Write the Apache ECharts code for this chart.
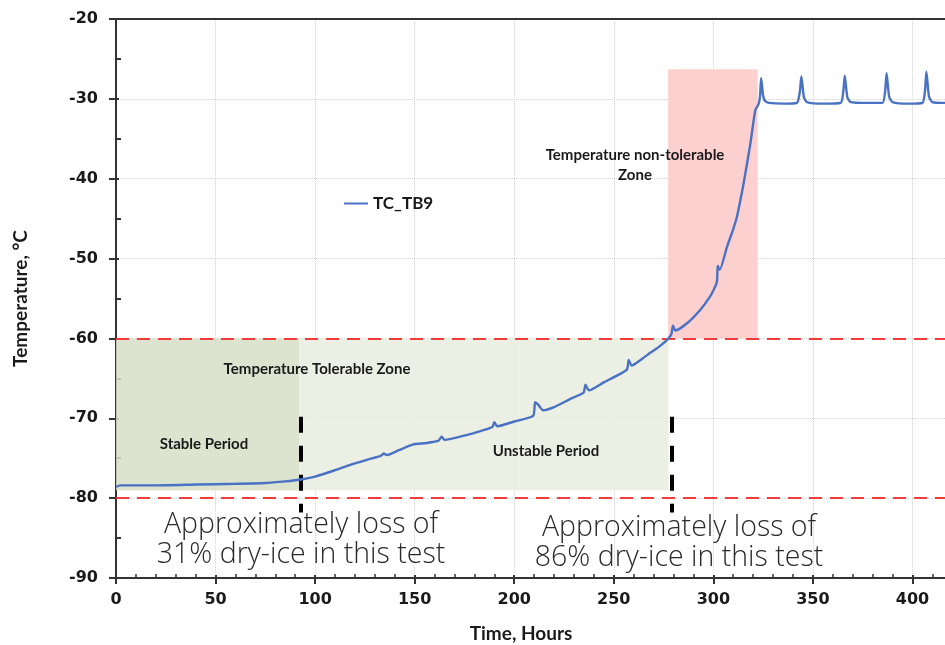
<!DOCTYPE html>
<html>
<head>
<meta charset="utf-8">
<script src="https://cdn.jsdelivr.net/npm/echarts@6/dist/echarts.min.js"></script>
<style>
  html, body { margin: 0; padding: 0; background: #ffffff; }
  #chart { width: 945px; height: 645px; }
</style>
</head>
<body>
<div id="chart"></div>
<script>
// Thermocouple TC_TB9 reading over the test, hours vs °C
const hours = [
  0, 2, 20, 40, 60, 75, 85, 92, 100, 110, 118, 126, 133, 134.5, 136, 142, 149, 156,
  162, 163.5, 165, 176, 183, 189, 190, 191.5, 200, 209.5, 210.5, 212, 214.5, 220, 228,
  234.8, 235.8, 237.5, 245, 252, 256.6, 257.5, 259, 264, 268.3, 273, 277.5, 279, 279.7,
  281, 286.8, 293.5, 298, 300.2, 301.8, 302.2, 303.2, 306.9, 310, 311.9, 315.2, 318.6,
  321.1, 322.8, 323.5, 324, 325, 326.1, 328, 335, 342, 343.5, 344.2, 345.5, 347, 355,
  364, 365.3, 366, 367.3, 369, 377, 385, 386.3, 387, 388.3, 390, 398, 405, 406.3, 407,
  408.3, 410, 416, 425
];
const temps = [
  -78.6, -78.4, -78.4, -78.3, -78.2, -78.1, -77.9, -77.7, -77.3, -76.5, -75.8, -75.2, -74.7, -74.4, -74.6, -74.0, -73.3, -73.1,
  -72.8, -72.3, -72.7, -72.1, -71.6, -71.1, -70.5, -71.0, -70.4, -69.7, -68.0, -68.3, -69.0, -68.6, -67.6,
  -66.8, -65.8, -66.5, -65.5, -64.6, -63.9, -62.7, -63.4, -62.6, -61.8, -61.0, -60.0, -59.4, -58.4,
  -59.0, -58.1, -56.4, -54.9, -53.9, -52.9, -50.9, -51.4, -48.5, -46.3, -44.7, -40.6, -35.6,
  -31.4, -30.6, -29.5, -27.4, -29.6, -30.3, -30.5, -30.6, -30.5, -29.0, -27.2, -29.8, -30.4, -30.6,
  -30.5, -29.0, -27.1, -29.8, -30.4, -30.5, -30.5, -29.0, -26.8, -29.7, -30.4, -30.6, -30.5, -29.0, -26.6,
  -29.7, -30.4, -30.5, -30.5
];

// Zone bounds [xStart, yTop, xEnd, yBottom]
const stableZone = [0, -60, 92, -79];
const unstableZone = [92, -60, 277.5, -79];
const nonTolerableZone = [277.3, -26.3, 322.3, -60];
// Tolerance limits
const limits = [-60, -80];
// Period boundaries (hours) and their marker extent
const boundaries = [93, 279];
const boundarySpan = [-69.8, -81.8];

const xTicks = { min: 0, max: 450, step: 50 };
const yTicks = { min: -90, max: -20, step: 10 };

const seriesData = hours.map((h, i) => [h, temps[i]]);

const tickFont = { fontFamily: 'DejaVu Sans', fontWeight: 'bold', fontSize: 16, color: '#1a1a1a' };
const noteFont = 'Lato, "Open Sans", sans-serif';
const bigFont = '"Open Sans", Lato, sans-serif';

const chart = echarts.init(document.getElementById('chart'), null, { renderer: 'canvas' });

function note(text, x, y, font, extra) {
  return {
    type: 'text', x: x, y: y, z: 100, silent: true,
    style: Object.assign({ text: text, fill: '#1a1a1a', font: font, textAlign: 'center', textVerticalAlign: 'middle' }, extra || {})
  };
}

chart.setOption({
  animation: false,
  backgroundColor: '#ffffff',
  // plot area runs past the right edge of the canvas
  grid: { left: 116, top: 19, width: 896, height: 559, containLabel: false, outerBoundsMode: 'none' },
  legend: {
    left: 339, top: 190,
    itemWidth: 24, itemHeight: 2, itemGap: 4,
    data: [{ name: 'TC_TB9', icon: 'rect' }],
    textStyle: { fontFamily: noteFont, fontWeight: 'bold', fontSize: 17, color: '#1a1a1a' }
  },
  xAxis: [
    {
      type: 'value', min: xTicks.min, max: xTicks.max, interval: xTicks.step,
      axisLine: { show: true, lineStyle: { color: '#333', width: 2 } },
      axisTick: { show: true, inside: false, length: 6, lineStyle: { color: '#333', width: 2 } },
      axisLabel: Object.assign({ margin: 14 }, tickFont),
      splitLine: { show: true, lineStyle: { color: '#d4d4d4', type: 'dotted', width: 1 } }
    },
    {
      type: 'value', min: xTicks.min, max: xTicks.max, interval: xTicks.step, position: 'bottom',
      axisLine: { show: false },
      axisTick: { show: true, inside: true, length: 3, lineStyle: { color: '#333', width: 2 } },
      minorTick: { show: true, splitNumber: 5, length: 4, lineStyle: { color: '#333', width: 1.5 } },
      axisLabel: { show: false },
      splitLine: { show: false }
    },
    {
      type: 'value', min: xTicks.min, max: xTicks.max, position: 'top',
      axisLine: { show: true, lineStyle: { color: '#333', width: 2 } },
      axisTick: { show: false }, axisLabel: { show: false }, splitLine: { show: false }
    }
  ],
  yAxis: [
    {
      type: 'value', min: yTicks.min, max: yTicks.max, interval: yTicks.step,
      name: 'Temperature, °C', nameLocation: 'middle', nameGap: 86, nameRotate: 90,
      nameTextStyle: { fontFamily: noteFont, fontWeight: 'bold', fontSize: 19, color: '#1a1a1a' },
      axisLine: { show: true, lineStyle: { color: '#333', width: 2 } },
      axisTick: { show: true, inside: false, length: 7, lineStyle: { color: '#333', width: 2 } },
      axisLabel: Object.assign({ margin: 18 }, tickFont),
      splitLine: { show: true, lineStyle: { color: '#d4d4d4', type: 'dotted', width: 1 } }
    },
    {
      type: 'value', min: yTicks.min, max: yTicks.max, interval: yTicks.step, position: 'left',
      axisLine: { show: false },
      axisTick: { show: true, inside: true, length: 3, lineStyle: { color: '#333', width: 2 } },
      minorTick: { show: true, splitNumber: 2, length: 5, lineStyle: { color: '#333', width: 2 } },
      axisLabel: { show: false },
      splitLine: { show: false }
    }
  ],
  series: [
    {
      name: 'TC_TB9',
      type: 'line',
      data: seriesData,
      showSymbol: false,
      symbol: 'none',
      smooth: 0.2,
      color: '#4a72c4',
      lineStyle: { color: '#4a72c4', width: 2.4 },
      z: 5,
      markArea: {
        silent: true,
        data: [
          [{ coord: [stableZone[0], stableZone[1]], itemStyle: { color: 'rgba(214,222,198,0.85)' } },
           { coord: [stableZone[2], stableZone[3]] }],
          [{ coord: [unstableZone[0], unstableZone[1]], itemStyle: { color: 'rgba(234,237,224,0.9)' } },
           { coord: [unstableZone[2], unstableZone[3]] }],
          [{ coord: [nonTolerableZone[0], nonTolerableZone[1]], itemStyle: { color: 'rgba(253,205,205,0.95)' } },
           { coord: [nonTolerableZone[2], nonTolerableZone[3]] }]
        ]
      },
      markLine: {
        silent: true,
        symbol: 'none',
        label: { show: false },
        data: [
          ...limits.map(v => ({ yAxis: v, lineStyle: { color: '#f23c3c', width: 2, type: [13, 8] } })),
          ...boundaries.map(b => [
            { coord: [b, boundarySpan[0]], lineStyle: { color: '#000', width: 4, type: [16, 13] } },
            { coord: [b, boundarySpan[1]] }
          ])
        ]
      }
    }
  ],
  graphic: [
    note('Time, Hours', 521, 634, 'bold 19px ' + noteFont),
    note('Temperature non-tolerable\nZone', 635, 165, 'bold 15px ' + noteFont, { lineHeight: 20 }),
    note('Temperature Tolerable Zone', 317, 369, 'bold 15px ' + noteFont),
    note('Stable Period', 204, 444, 'bold 15px ' + noteFont),
    note('Unstable Period', 546, 451, 'bold 15px ' + noteFont),
    note('Approximately loss of\n31% dry-ice in this test', 301, 540, '300 28.5px ' + bigFont, { fill: '#2a2a2a', lineHeight: 30 }),
    note('Approximately loss of\n86% dry-ice in this test', 679, 543, '300 28.5px ' + bigFont, { fill: '#2a2a2a', lineHeight: 30 })
  ]
});
</script>
</body>
</html>
